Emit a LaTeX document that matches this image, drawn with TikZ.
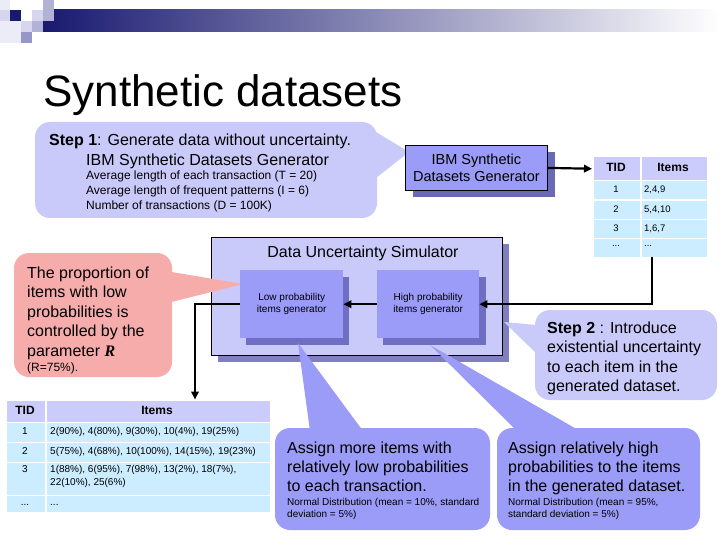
\documentclass[tikz,border=0pt]{standalone}
\usepackage{fontspec}
\setmainfont{Liberation Sans}
\newfontfamily\serifR{Liberation Serif}
\usetikzlibrary{arrows.meta,calc}
\definecolor{navyc}{RGB}{25,25,112}
\definecolor{lav}{RGB}{202,202,250}
\definecolor{peri}{RGB}{155,155,248}
\definecolor{ibmshadow}{RGB}{105,105,180}
\definecolor{genshadow}{RGB}{110,110,195}
\definecolor{simshadow}{RGB}{128,128,192}
\definecolor{pinkc}{RGB}{247,172,172}
\definecolor{hdrc}{RGB}{204,204,252}
\definecolor{cellc}{RGB}{204,236,255}
\definecolor{sqA}{RGB}{236,236,248}
\definecolor{sqB}{RGB}{214,214,238}
\definecolor{sqC}{RGB}{178,178,214}
\definecolor{sqD}{RGB}{150,150,200}
\newcommand\fsz[2]{\fontsize{#1}{#2}\selectfont}
\begin{document}
\begin{tikzpicture}[x=1pt,y=-1pt,
  txt/.style={inner sep=0pt, anchor=base west},
  ctxt/.style={inner sep=0pt, anchor=base},
  arr/.style={line width=2.2pt, -{Triangle[length=8pt,width=7.5pt]}},
  cellbox/.style={draw=white, line width=1.5pt, inner sep=0pt, anchor=north west},
  hdrcell/.style={cellbox, fill=hdrc},
  bodycell/.style={cellbox, fill=cellc},
  genbox/.style={fill=peri, inner sep=0pt, anchor=north west, align=center, font=\fsz{10}{12}},
  hfont/.style={font=\fsz{12}{14}\bfseries},
  cfont/.style={font=\fsz{9.5}{12}},
  bfont/.style={font=\fsz{10}{13}},
  big/.style={font=\fsz{16}{19}},
  small/.style={font=\fsz{10}{12}}
]
\useasboundingbox (0,0) rectangle (720,540);
\fill[white] (0,0) rectangle (720,540);

% header banner
\shade[left color=navyc, right color=white] (43,10) rectangle (720,32);
\fill[sqA] (0,0) rectangle (10,10);
\fill[sqB] (0,10) rectangle (10,21);
\fill[sqA] (0,21) rectangle (21,43);
\fill[navyc] (10,10) rectangle (21,21);
\fill[sqC] (43,0) rectangle (54,10);
\fill[sqB] (32,10) rectangle (43,21);
\fill[sqC] (43,10) rectangle (54,21);
\fill[sqB] (21,21) rectangle (32,32);
\fill[sqC] (32,21) rectangle (43,32);
\fill[sqD] (21,32) rectangle (32,43);

\node[txt, font=\fsz{44}{50}] (title) at (43,107) {Synthetic datasets};

% Step 1 callout
\fill[lav, rounded corners=15pt] (35,122) rectangle (377,218);
\fill[lav] (376,132) -- (409,152) -- (376,178) -- cycle;
\node[txt, big] (s1a) at (49,146) {\textbf{Step 1}: Generate data without uncertainty.};
\node[txt, big] (s1b) at (86,166) {IBM Synthetic Datasets Generator};
\node[txt, font=\fsz{12}{14}] (s1c) at (86,180) {Average length of each transaction (T = 20)};
\node[txt, font=\fsz{12}{14}] (s1d) at (86,195) {Average length of frequent patterns (I = 6)};
\node[txt, font=\fsz{12}{14}] (s1e) at (86,209.5) {Number of transactions (D = 100K)};

% IBM generator box
\fill[ibmshadow] (413,152) rectangle (555,197);
\node[genbox, draw=black, line width=0.8pt, minimum width=142pt, minimum height=45pt,
      font=\fsz{14.5}{17}] (ibm) at (405,145) {IBM Synthetic\\Datasets Generator};

% top-right table
\node[hdrcell, minimum width=48pt, minimum height=24pt] (tth) at (592,156) {};
\node[hdrcell, minimum width=67pt, minimum height=24pt] (tih) at (640,156) {};
\node[bodycell, minimum width=48pt, minimum height=19.3pt] (tt1) at (592,180) {};
\node[bodycell, minimum width=67pt, minimum height=19.3pt] (ti1) at (640,180) {};
\node[bodycell, minimum width=48pt, minimum height=19.3pt] (tt2) at (592,199.3) {};
\node[bodycell, minimum width=67pt, minimum height=19.3pt] (ti2) at (640,199.3) {};
\node[bodycell, minimum width=48pt, minimum height=19.3pt] (tt3) at (592,218.6) {};
\node[bodycell, minimum width=67pt, minimum height=19.3pt] (ti3) at (640,218.6) {};
\node[bodycell, minimum width=48pt, minimum height=19.3pt] (tt4) at (592,237.9) {};
\node[bodycell, minimum width=67pt, minimum height=19.3pt] (ti4) at (640,237.9) {};
\node[ctxt, hfont] (ttht) at (616,172) {TID};
\node[ctxt, hfont] (tiht) at (673,172) {Items};
\node[ctxt, cfont] (tt1t) at (616,193) {1};
\node[txt, cfont] (ti1t) at (644,193) {2,4,9};
\node[ctxt, cfont] (tt2t) at (616,212) {2};
\node[txt, cfont] (ti2t) at (644,212) {5,4,10};
\node[ctxt, cfont] (tt3t) at (616,231) {3};
\node[txt, cfont] (ti3t) at (644,231) {1,6,7};
\node[ctxt, cfont] (tt4t) at (616,247) {...};
\node[txt, cfont] (ti4t) at (644,247) {...};

\draw[arr] (ibm.east) -- (tth.west);

% Data uncertainty simulator
\fill[simshadow] (218,244) rectangle (509,362);
\node[draw=black, line width=0.8pt, fill=lav, inner sep=0pt, minimum width=291pt,
      minimum height=118pt, anchor=north west] (sim) at (211,237) {};
\node[ctxt, big] (simt) at (363,257) {Data Uncertainty Simulator};

% pink callout
\fill[pinkc, rounded corners=15pt] (14,253) rectangle (172,377);
\fill[pinkc] (171.5,272) -- (243,284) -- (171.5,302) -- cycle;
\node[txt, big] (p1) at (27,278) {The proportion of};
\node[txt, big] (p2) at (27,297.5) {items with low};
\node[txt, big] (p3) at (27,317) {probabilities is};
\node[txt, big] (p4) at (27,336.5) {controlled by the};
\node[txt, big] (p5) at (27,356) {parameter {\serifR\bfseries\itshape R}};
\node[txt, font=\fsz{12}{14}] (p6) at (27,371) {(R=75\%).};

% generator boxes
\fill[genshadow] (246,277) rectangle (349,345);
\node[genbox, minimum width=103pt, minimum height=68pt] (low) at (240,270) {Low probability\\items generator};
\fill[genshadow] (383,277) rectangle (486,345);
\node[genbox, minimum width=102pt, minimum height=68pt] (high) at (377,270) {High probability\\items generator};

\draw[arr] (high.west) -- (low.east);
\coordinate (drop) at (652,257);
\draw[arr] (drop) |- (high.east);

% Step 2 callout
\fill[lav, rounded corners=15pt] (535,310) rectangle (717,400);
\fill[lav] (536,325) -- (504,322) -- (536,353) -- cycle;
\node[txt, big] (s2a) at (547,333) {\textbf{Step 2} : Introduce};
\node[txt, big] (s2b) at (547,352.5) {existential uncertainty};
\node[txt, big] (s2c) at (547,372) {to each item in the};
\node[txt, big] (s2d) at (547,391.5) {generated dataset.};

% bottom-left table
\node[hdrcell, minimum width=40pt, minimum height=22pt] (bth) at (5,399.5) {};
\node[hdrcell, minimum width=225pt, minimum height=22pt] (bih) at (45,399.5) {};
\node[bodycell, minimum width=40pt, minimum height=20pt] (bt1) at (5,421.5) {};
\node[bodycell, minimum width=225pt, minimum height=20pt] (bi1) at (45,421.5) {};
\node[bodycell, minimum width=40pt, minimum height=20pt] (bt2) at (5,441.5) {};
\node[bodycell, minimum width=225pt, minimum height=20pt] (bi2) at (45,441.5) {};
\node[bodycell, minimum width=40pt, minimum height=33pt] (bt3) at (5,461.5) {};
\node[bodycell, minimum width=225pt, minimum height=33pt] (bi3) at (45,461.5) {};
\node[bodycell, minimum width=40pt, minimum height=17pt] (bt4) at (5,494.5) {};
\node[bodycell, minimum width=225pt, minimum height=17pt] (bi4) at (45,494.5) {};
\node[ctxt, hfont] (btht) at (25,414.5) {TID};
\node[ctxt, hfont] (biht) at (157,414.5) {Items};
\node[ctxt, bfont] (bt1t) at (25,434.5) {1};
\node[txt, bfont] (bi1t) at (50,434.5) {2(90\%), 4(80\%), 9(30\%), 10(4\%), 19(25\%)};
\node[ctxt, bfont] (bt2t) at (25,454.5) {2};
\node[txt, bfont] (bi2t) at (50,454.5) {5(75\%), 4(68\%), 10(100\%), 14(15\%), 19(23\%)};
\node[ctxt, bfont] (bt3t) at (25,472.5) {3};
\node[txt, bfont] (bi3t) at (50,472.5) {1(88\%), 6(95\%), 7(98\%), 13(2\%), 18(7\%),};
\node[txt, bfont] (bi3u) at (50,485.5) {22(10\%), 25(6\%)};
\node[ctxt, bfont] (bt4t) at (25,505) {...};
\node[txt, bfont] (bi4t) at (50,505) {...};

\coordinate (bdrop) at (195,399.5);
\draw[arr] (low.west) -| (bdrop);

% bottom callouts
\fill[peri, rounded corners=15pt] (275,428) rectangle (490,530);
\fill[peri] (310,431) -- (298,343) -- (363,431) -- cycle;
\node[txt, big] (l1) at (287,453) {Assign more items with};
\node[txt, big] (l2) at (287,472) {relatively low probabilities};
\node[txt, big] (l3) at (287,491) {to each transaction.};
\node[txt, small] (l4) at (287,505) {Normal Distribution (mean = 10\%, standard};
\node[txt, small] (l5) at (287,517.5) {deviation = 5\%)};

\fill[peri, rounded corners=15pt] (497,428) rectangle (700,530);
\fill[peri] (517,431) -- (430,345) -- (580,431) -- cycle;
\node[txt, big] (h1) at (508,453) {Assign relatively high};
\node[txt, big] (h2) at (508,472) {probabilities to the items};
\node[txt, big] (h3) at (508,491) {in the generated dataset.};
\node[txt, small] (h4) at (508,505) {Normal Distribution (mean = 95\%,};
\node[txt, small] (h5) at (508,517.5) {standard deviation = 5\%)};
\end{tikzpicture}
\end{document}
